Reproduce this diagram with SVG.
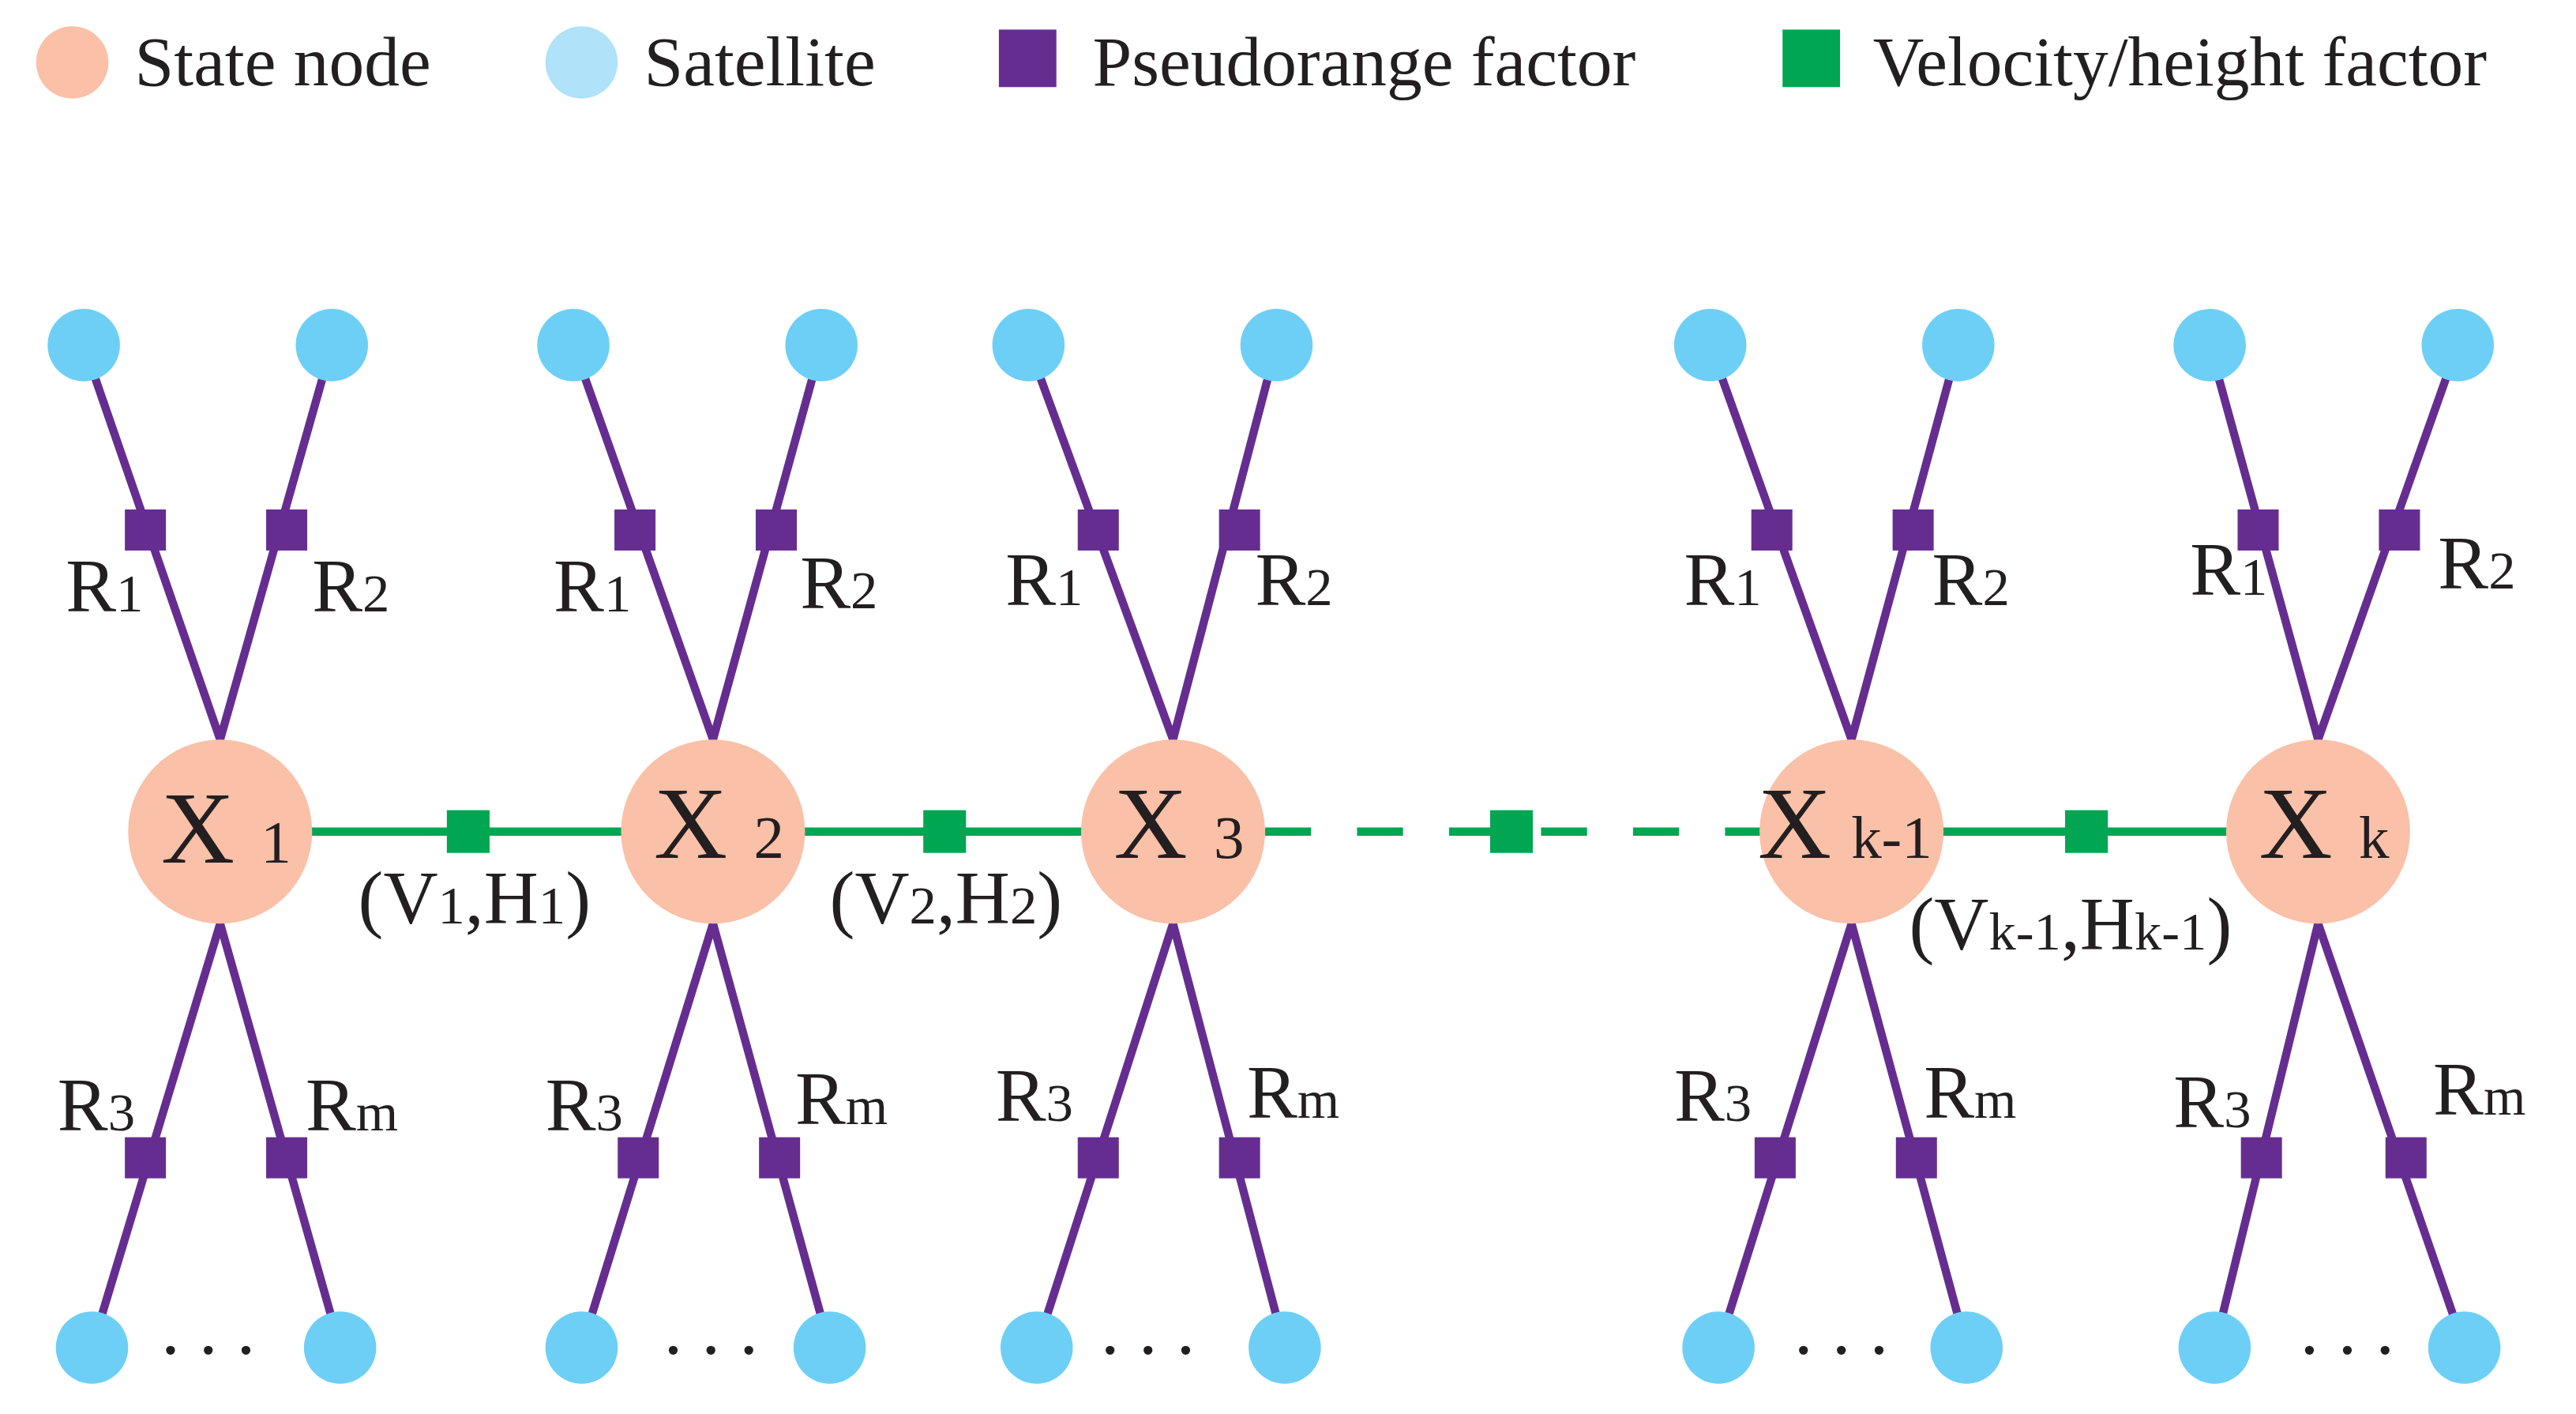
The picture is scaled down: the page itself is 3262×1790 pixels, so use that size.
<svg xmlns="http://www.w3.org/2000/svg" width="3262" height="1790" viewBox="0 0 3262 1790">
<style>
text{font-family:"Liberation Serif","Times New Roman",serif;fill:#231f20}
.lg{font-size:43px}
.r{font-size:46px}
.s{font-size:33px}
.x{font-size:62px}
.xs{font-size:37px}
.st{fill:#fac0a8}
.sat{fill:#6dcff6}
.pf{fill:#662d91}
.vf{fill:#00a651}
.pl{stroke:#662d91;stroke-width:5;fill:none}
.gl{stroke:#00a651;stroke-width:5;fill:none}
</style>
<rect width="3262" height="1790" fill="#fff"/>
<g transform="scale(2.0804)">
<g id="legend">
<circle cx="44" cy="38" r="22" fill="#fac0a8"/>
<text class="lg" x="82" y="52">State node</text>
<circle cx="354" cy="38" r="22" fill="#b0e2f9"/>
<text class="lg" x="392" y="52">Satellite</text>
<rect x="608" y="18" width="35" height="35" class="pf"/>
<text class="lg" x="665" y="52">Pseudorange factor</text>
<rect x="1085" y="18" width="35" height="35" class="vf"/>
<text class="lg" x="1140" y="52">Velocity/height factor</text>
</g>
<g id="connectors">
<line class="gl" x1="134" y1="506" x2="714" y2="506"/>
<line class="gl" x1="714" y1="506" x2="1127" y2="506" stroke-dasharray="28,28"/>
<line class="gl" x1="1127" y1="506" x2="1411" y2="506"/>
<polyline class="pl" points="51,210 134,450 202,210"/>
<polyline class="pl" points="56,820 134,562 207,820"/>
<polyline class="pl" points="349,210 434,450 500,210"/>
<polyline class="pl" points="354,820 434,562 505,820"/>
<polyline class="pl" points="626,210 714,450 777,210"/>
<polyline class="pl" points="631,820 714,562 782,820"/>
<polyline class="pl" points="1041,210 1127,450 1192,210"/>
<polyline class="pl" points="1046,820 1127,562 1197,820"/>
<polyline class="pl" points="1345,210 1411,450 1496,210"/>
<polyline class="pl" points="1348,820 1411,562 1500,820"/>
</g>
<g id="factors">
<rect class="vf" x="272" y="493" width="26" height="26"/>
<rect class="vf" x="562" y="493" width="26" height="26"/>
<rect class="vf" x="907" y="493" width="26" height="26"/>
<rect class="vf" x="1257" y="493" width="26" height="26"/>
<g class="pf">
<rect x="76" y="310" width="25" height="25"/><rect x="162" y="310" width="25" height="25"/>
<rect x="76" y="692" width="25" height="25"/><rect x="162" y="692" width="25" height="25"/>
<rect x="374" y="310" width="25" height="25"/><rect x="460" y="310" width="25" height="25"/>
<rect x="376" y="692" width="25" height="25"/><rect x="462" y="692" width="25" height="25"/>
<rect x="656" y="310" width="25" height="25"/><rect x="742" y="310" width="25" height="25"/>
<rect x="656" y="692" width="25" height="25"/><rect x="742" y="692" width="25" height="25"/>
<rect x="1066" y="310" width="25" height="25"/><rect x="1152" y="310" width="25" height="25"/>
<rect x="1068" y="692" width="25" height="25"/><rect x="1154" y="692" width="25" height="25"/>
<rect x="1362" y="310" width="25" height="25"/><rect x="1448" y="310" width="25" height="25"/>
<rect x="1364" y="692" width="25" height="25"/><rect x="1452" y="692" width="25" height="25"/>
</g>
</g>
<g id="satellites" class="sat">
<circle cx="51" cy="210" r="22"/><circle cx="202" cy="210" r="22"/>
<circle cx="56" cy="820" r="22"/><circle cx="207" cy="820" r="22"/>
<circle cx="349" cy="210" r="22"/><circle cx="500" cy="210" r="22"/>
<circle cx="354" cy="820" r="22"/><circle cx="505" cy="820" r="22"/>
<circle cx="626" cy="210" r="22"/><circle cx="777" cy="210" r="22"/>
<circle cx="631" cy="820" r="22"/><circle cx="782" cy="820" r="22"/>
<circle cx="1041" cy="210" r="22"/><circle cx="1192" cy="210" r="22"/>
<circle cx="1046" cy="820" r="22"/><circle cx="1197" cy="820" r="22"/>
<circle cx="1345" cy="210" r="22"/><circle cx="1496" cy="210" r="22"/>
<circle cx="1348" cy="820" r="22"/><circle cx="1500" cy="820" r="22"/>
</g>
<g id="X1"><circle class="st" cx="134" cy="506" r="56"/><text class="x" x="98" y="525">X<tspan class="xs" dx="16">1</tspan></text></g>
<g id="X2"><circle class="st" cx="434" cy="506" r="56"/><text class="x" x="398" y="522">X<tspan class="xs" dx="16">2</tspan></text></g>
<g id="X3"><circle class="st" cx="714" cy="506" r="56"/><text class="x" x="678" y="522">X<tspan class="xs" dx="16">3</tspan></text></g>
<g id="Xk-1"><circle class="st" cx="1127" cy="506" r="56"/><text class="x" x="1070" y="522">X<tspan class="xs" dx="12">k-1</tspan></text></g>
<g id="Xk"><circle class="st" cx="1411" cy="506" r="56"/><text class="x" x="1375" y="522">X<tspan class="xs" dx="16">k</tspan></text></g>
<g id="labels" class="r">
<text class="r" x="40" y="372">R<tspan class="s">1</tspan></text><text class="r" x="190" y="372">R<tspan class="s">2</tspan></text>
<text class="r" x="35" y="688">R<tspan class="s">3</tspan></text><text class="r" x="186" y="688">R<tspan class="s">m</tspan></text>
<text class="r" x="337" y="372">R<tspan class="s">1</tspan></text><text class="r" x="487" y="370">R<tspan class="s">2</tspan></text>
<text class="r" x="332" y="688">R<tspan class="s">3</tspan></text><text class="r" x="484" y="684">R<tspan class="s">m</tspan></text>
<text class="r" x="612" y="368">R<tspan class="s">1</tspan></text><text class="r" x="764" y="368">R<tspan class="s">2</tspan></text>
<text class="r" x="606" y="682">R<tspan class="s">3</tspan></text><text class="r" x="759" y="680">R<tspan class="s">m</tspan></text>
<text class="r" x="1025" y="368">R<tspan class="s">1</tspan></text><text class="r" x="1176" y="368">R<tspan class="s">2</tspan></text>
<text class="r" x="1019" y="682">R<tspan class="s">3</tspan></text><text class="r" x="1171" y="680">R<tspan class="s">m</tspan></text>
<text class="r" x="1333" y="362">R<tspan class="s">1</tspan></text><text class="r" x="1484" y="358">R<tspan class="s">2</tspan></text>
<text class="r" x="1323" y="686">R<tspan class="s">3</tspan></text><text class="r" x="1481" y="678">R<tspan class="s">m</tspan></text>
<text class="r" x="218" y="562">(V<tspan class="s">1</tspan>,H<tspan class="s">1</tspan>)</text>
<text class="r" x="505" y="562">(V<tspan class="s">2</tspan>,H<tspan class="s">2</tspan>)</text>
<text class="r" x="1162" y="578">(V<tspan class="s">k-1</tspan>,H<tspan class="s">k-1</tspan>)</text>
<text class="r" x="98" y="824">. . .</text><text class="r" x="404" y="824">. . .</text>
<text class="r" x="670" y="824">. . .</text><text class="r" x="1092" y="824">. . .</text>
<text class="r" x="1400" y="824">. . .</text>
</g>
</g>
</svg>
